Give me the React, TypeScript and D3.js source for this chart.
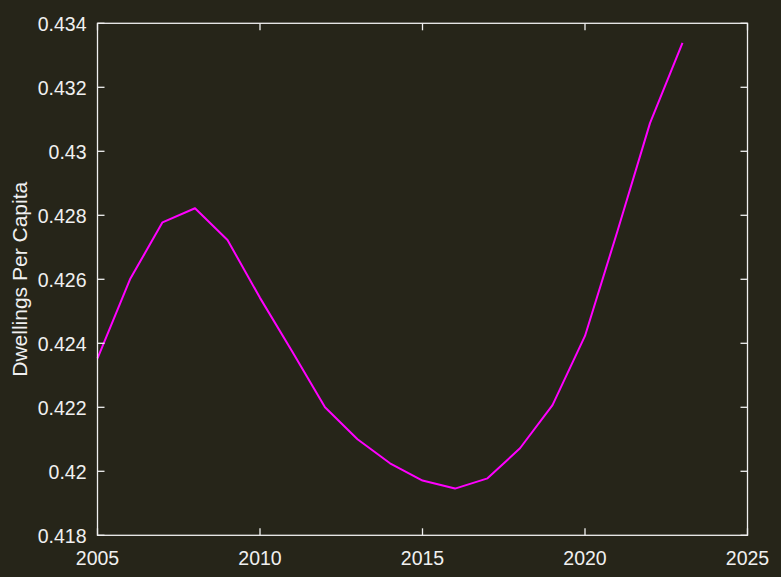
import React from "react";
import * as d3 from "d3";

const years = [2005, 2006, 2007, 2008, 2009, 2010, 2011, 2012, 2013, 2014, 2015, 2016, 2017, 2018, 2019, 2020, 2021, 2022, 2023];
const dwellingsPerCapita = [0.42353, 0.426, 0.42778, 0.42822, 0.42723, 0.42542, 0.42373, 0.422, 0.421, 0.42025, 0.41971, 0.41946, 0.41978, 0.42072, 0.42207, 0.42423, 0.42751, 0.43088, 0.43339];
const xTicks = [2005, 2010, 2015, 2020, 2025];
const yTicks = [0.418, 0.42, 0.422, 0.424, 0.426, 0.428, 0.43, 0.432, 0.434];
const yLabel = "Dwellings Per Capita";

export default function App() {
  const W = 781, H = 577;
  const left = 97.5, right = 747.5, top = 23.3, bottom = 535.3;
  const x = d3.scaleLinear().domain([2005, 2025]).range([left, right]);
  const y = d3.scaleLinear().domain([0.418, 0.434]).range([bottom, top]);
  const line = d3.line<number>().x((_, i) => x(years[i])).y((d) => y(d));
  const bg = "#262519";
  const fg = "#f0f0f0";
  const font = "'Liberation Sans', Arial, Helvetica, sans-serif";
  const tl = 7;
  const fmtY = (v: number) => String(+v.toFixed(3));
  return (
    <svg width={W} height={H} style={{ position: "absolute", left: 0, top: 0, background: bg }}>
      <rect x={0} y={0} width={W} height={H} fill={bg} />
      <path d={line(dwellingsPerCapita) || ""} fill="none" stroke="#ff00ff" strokeWidth={2} strokeLinejoin="round" />
      <rect x={left} y={top} width={right - left} height={bottom - top} fill="none" stroke={fg} strokeWidth={1.3} />
      {xTicks.map((t) => (
        <g key={"x" + t}>
          <line x1={x(t)} x2={x(t)} y1={bottom} y2={bottom - tl} stroke={fg} strokeWidth={1.3} />
          <line x1={x(t)} x2={x(t)} y1={top} y2={top + tl} stroke={fg} strokeWidth={1.3} />
          <text x={x(t)} y={bottom + 30} textAnchor="middle" fill={fg} fontFamily={font} fontSize={19.5}>{t}</text>
        </g>
      ))}
      {yTicks.map((t) => (
        <g key={"y" + t}>
          <line x1={left} x2={left + tl} y1={y(t)} y2={y(t)} stroke={fg} strokeWidth={1.3} />
          <line x1={right} x2={right - tl} y1={y(t)} y2={y(t)} stroke={fg} strokeWidth={1.3} />
          <text x={left - 11} y={y(t) + 8} textAnchor="end" fill={fg} fontFamily={font} fontSize={19.5}>{fmtY(t)}</text>
        </g>
      ))}
      <text transform={`translate(27,${(top + bottom) / 2}) rotate(-90)`} textAnchor="middle" fill={fg} fontFamily={font} fontSize={21}>{yLabel}</text>
    </svg>
  );
}
